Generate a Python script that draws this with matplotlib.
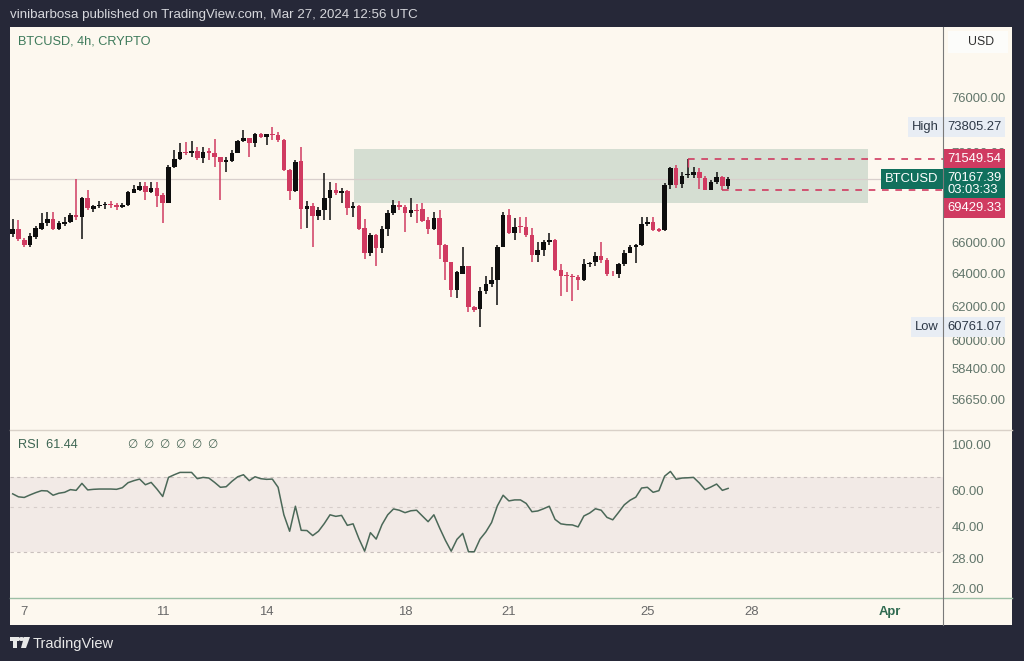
import numpy as np
import pandas as pd
import matplotlib
matplotlib.use('Agg')
import matplotlib.pyplot as plt
from matplotlib.lines import Line2D
from matplotlib.patches import Rectangle, Polygon, Circle
from matplotlib.ticker import FixedLocator, NullLocator, FuncFormatter, NullFormatter
from matplotlib.transforms import blended_transform_factory

plt.rcParams['font.family'] = ['Liberation Sans', 'DejaVu Sans']

# BTCUSD 4h candles, first candle Mar 6 16:00 UTC
start_time = '2024-03-06 16:00'
opens = [66560, 66880, 66180, 65860, 66370, 66880, 67280, 67540, 66880, 67210,
         67340, 67800, 67670, 68920, 68190, 68390, 68460, 68460, 68460, 68320,
         68460, 69250, 69460, 69730, 69320, 69590, 69120, 68590, 71030, 71580,
         72070, 72000, 72140, 71650, 72140, 72000, 71720, 71370, 71440, 72000,
         72840, 73060, 72700, 73340, 73120, 73340, 73270, 72910, 70820, 69390,
         71440, 68190, 68390, 67730, 68130, 68920, 69460, 69250, 69390, 68260,
         68390, 66950, 65350, 66500, 65610, 66880, 67930, 68460, 68320, 67930,
         68130, 68190, 67470, 66880, 67600, 65860, 64720, 63040, 64030, 64470,
         61960, 61840, 62920, 63350, 63600, 65730, 67800, 66630, 67080, 67010,
         66500, 65220, 65480, 65990, 66180, 64220, 63910, 63850, 63790, 63600,
         64600, 64720, 65100, 64850, 64030, 63970, 64600, 65350, 65670, 65860,
         67210, 67340, 66880, 66820, 69800, 70960, 69860, 70480, 70480, 70680,
         70270, 69460, 70000, 70340, 69730]
highs = [67540, 67470, 66300, 66630, 67080, 67930, 67990, 67990, 67410, 67670,
         67930, 70200, 68990, 69460, 68460, 68720, 68660, 68720, 68590, 68590,
         69350, 69800, 70000, 70000, 70000, 70000, 69250, 71160, 72210, 72700,
         72770, 72840, 72420, 72420, 72350, 72980, 71730, 71720, 72210, 72910,
         73620, 73070, 73410, 73410, 73350, 73805.27, 73480, 72980, 70890, 71510,
         72420, 68720, 68590, 68320, 70620, 70000, 69930, 69590, 69460, 68660,
         68460, 67540, 66630, 66560, 67080, 68130, 68790, 68720, 68460, 68920,
         68520, 68590, 67670, 67990, 68130, 65920, 64780, 64160, 65730, 64530,
         62020, 63170, 63850, 64410, 65860, 67990, 68190, 67600, 67670, 67670,
         66950, 65990, 66180, 66630, 66240, 64600, 64100, 63970, 63910, 64910,
         64780, 65410, 65990, 65030, 64160, 64660, 65540, 65860, 65920, 67670,
         67670, 67670, 66950, 69930, 71030, 71160, 70680, 71549.54, 71030, 70960,
         70410, 70140, 70680, 70410, 70340]
lows = [66370, 66110, 65670, 65730, 66240, 66820, 67080, 66820, 66820, 67080,
        67280, 67470, 66240, 68130, 67990, 68260, 68190, 68260, 68130, 68260,
        68390, 69230, 69390, 68790, 69250, 68320, 67280, 68560, 70960, 71510,
        71860, 71720, 71510, 71300, 71510, 71030, 68790, 70680, 71370, 71990,
        72770, 71720, 72420, 73060, 72560, 72910, 72770, 70750, 68790, 69320,
        66880, 66950, 65730, 67470, 67470, 67470, 69120, 68590, 67800, 67670,
        66820, 64910, 65100, 64530, 65290, 66430, 67800, 68130, 66690, 67670,
        67280, 67340, 66560, 66820, 64910, 63600, 62560, 62500, 64020, 61670,
        61670, 60761.07, 62750, 63170, 62080, 65670, 66560, 66180, 66630, 66370,
        64780, 64780, 65160, 65860, 64160, 62620, 62870, 62320, 63040, 63540,
        64410, 64530, 64660, 63850, 63850, 63720, 64530, 65290, 64660, 65790,
        67080, 66750, 66690, 66750, 69520, 69590, 69590, 70270, 70270, 69480,
        69440, 69440, 69860, 69429.33, 69520]
closes = [66880, 66240, 65860, 66430, 66950, 67280, 67540, 66880, 67280, 67340,
          67800, 67670, 68920, 68260, 68390, 68460, 68470, 68450, 68320, 68460,
          69320, 69520, 69730, 69320, 69590, 69060, 68590, 71030, 71580, 72070,
          72000, 72140, 71650, 72070, 72000, 71720, 71370, 71510, 72000, 72840,
          73060, 72700, 73340, 73120, 73340, 73270, 72910, 70820, 69390, 71370,
          68190, 68390, 67730, 68130, 68920, 69460, 69250, 69390, 68260, 68390,
          66880, 65350, 66500, 65610, 66880, 67930, 68460, 68320, 67930, 68130,
          68060, 67410, 66880, 67600, 65860, 64720, 63040, 64100, 64470, 61960,
          61780, 62920, 63350, 63600, 65730, 67800, 66630, 67010, 67010, 66500,
          65220, 65480, 65990, 66180, 64220, 63850, 63850, 63790, 63600, 64600,
          64660, 65100, 64850, 63970, 63970, 64600, 65350, 65670, 65860, 67210,
          67340, 66820, 66750, 69800, 70960, 69800, 70410, 70550, 70680, 70270,
          69460, 70000, 70340, 69730, 70167.39]
rsi = [57.8, 55.9, 55.5, 57.1, 58.6, 59.9, 59.7, 56.9, 58.2, 58.8,
       60.6, 60.1, 65.0, 60.4, 60.8, 61.0, 61.0, 61.0, 60.8, 61.9,
       65.5, 67.0, 68.2, 64.0, 65.7, 61.0, 56.1, 69.5, 71.6, 73.5,
       73.5, 73.5, 68.5, 69.5, 69.0, 65.7, 62.2, 62.6, 66.5, 70.0,
       71.6, 67.0, 70.0, 68.5, 68.0, 68.2, 62.2, 45.7, 38.0, 50.3,
       38.4, 38.3, 36.2, 38.0, 41.4, 45.7, 44.9, 45.4, 40.6, 41.3,
       35.0, 30.4, 37.4, 34.8, 40.9, 45.7, 48.8, 48.1, 46.8, 47.8,
       48.1, 45.1, 42.3, 45.7, 39.4, 34.3, 30.4, 34.7, 37.1, 30.2,
       30.2, 34.8, 37.7, 41.9, 50.5, 56.9, 53.4, 54.0, 54.0, 51.9,
       47.3, 47.7, 48.9, 50.3, 43.4, 41.3, 40.9, 40.8, 39.9, 45.1,
       46.6, 48.9, 48.1, 44.4, 43.2, 46.9, 51.1, 53.8, 55.7, 61.7,
       62.2, 58.8, 59.9, 70.5, 74.3, 68.0, 69.0, 69.2, 69.5, 65.3,
       60.6, 62.4, 64.5, 60.1, 61.44]

price_ticks = [76000, 72000, 66000, 64000, 62000, 60000, 58400, 56650]
rsi_ticks = [100, 60, 40, 28, 20]
date_ticks = ['2024-03-07', '2024-03-11', '2024-03-14', '2024-03-18',
              '2024-03-21', '2024-03-25', '2024-03-28', '2024-04-01']
date_labels = ['7', '11', '14', '18', '21', '25', '28', 'Apr']

zone_start, zone_end = '2024-03-16 12:36', '2024-03-31 08:50'
zone_top, zone_bottom = 72280, 68590
range_high, range_high_idx = 71549.54, 117
range_low, range_low_idx = 69429.33, 123
period_high, period_low = 73805.27, 60761.07

# colours
BG = '#262838'
PANEL = '#fdf8ef'
RED = '#d03b61'
BLACK = '#0e0e0e'
GREEN = '#11705d'
AXIS_TXT = '#62766b'

W, H = 1024, 661


def frac(l, t, r, b):
    return [l / W, 1 - b / H, (r - l) / W, (b - t) / H]


def fig_line(x0, y0, x1, y1, **kw):
    fig.add_artist(Line2D([x0 / W, x1 / W], [1 - y0 / H, 1 - y1 / H],
                          transform=fig.transFigure, **kw))


ref = pd.Timestamp('2024-03-07')
times = pd.date_range(start_time, periods=len(closes), freq='4h')
x = np.asarray((times - ref) / pd.Timedelta('1D'))


def to_x(s):
    return (pd.Timestamp(s) - ref) / pd.Timedelta('1D')


o = np.array(opens, float)
c = np.array(closes, float)
hi = np.array(highs, float)
lo = np.array(lows, float)
up = c >= o
cols = np.where(up, BLACK, RED)

fig = plt.figure(figsize=(W / 100, H / 100), dpi=100, facecolor=BG)

panel = fig.add_axes(frac(10, 27, 1012, 625))
panel.set_facecolor(PANEL)
panel.set_xticks([])
panel.set_yticks([])
for s in panel.spines.values():
    s.set_visible(False)

ax = fig.add_axes(frac(10, 28, 943, 429.5))
rax = fig.add_axes(frac(10, 429.5, 943, 598), sharex=ax)
for a in (ax, rax):
    a.set_facecolor('none')
    for s in a.spines.values():
        s.set_visible(False)

# --- price pane ---
ax.set_yscale('log')
ax.set_ylim(55020, 81290)
ax.set_xlim(-0.411, 26.54)

ax.add_patch(Rectangle((to_x(zone_start), zone_bottom), to_x(zone_end) - to_x(zone_start),
                       zone_top - zone_bottom, facecolor='#d5ded2', edgecolor='none', zorder=1))
ax.axhline(closes[-1], color='#d8cfcc', lw=0.9, zorder=1.5)

ax.vlines(x, lo, hi, colors=cols, lw=1.1, zorder=2)
body_h = np.maximum(np.abs(c - o), 25)
ax.bar(x, body_h, bottom=np.minimum(o, c), width=0.132, color=cols, zorder=3, linewidth=0)

ax.hlines(range_high, x[range_high_idx], ax.get_xlim()[1], colors=RED, lw=1.2,
          linestyles=(0, (4, 4)), zorder=4)
ax.vlines(x[range_high_idx], range_high, closes[range_high_idx] + 450, colors=RED, lw=1.0, zorder=4)
ax.hlines(range_low, x[range_low_idx], ax.get_xlim()[1], colors=RED, lw=1.2,
          linestyles=(0, (4, 4)), zorder=4)

ax.yaxis.tick_right()
ax.yaxis.set_major_locator(FixedLocator(price_ticks))
ax.yaxis.set_minor_locator(NullLocator())
ax.yaxis.set_minor_formatter(NullFormatter())
ax.yaxis.set_major_formatter(FuncFormatter(lambda v, p: f'{v:.2f}'))
ax.tick_params(axis='y', length=0, pad=6, labelsize=9.4, labelcolor=AXIS_TXT)
ax.tick_params(axis='x', bottom=False, labelbottom=False)

blend = blended_transform_factory(ax.transAxes, ax.transData)


def scale_label(a, tr, y, text, fc, tc, dx=3, dy=0, ha='left', size=9.4):
    a.annotate(text, xy=(1.0, y), xycoords=tr, xytext=(dx, dy), textcoords='offset points',
               ha=ha, va='center', fontsize=size, color=tc, linespacing=1.0,
               bbox=dict(boxstyle='square,pad=0.3', fc=fc, ec='none'),
               annotation_clip=False, zorder=10)


scale_label(ax, blend, period_high, 'High', '#e8edf4', '#2d3846', dx=-3, ha='right')
scale_label(ax, blend, period_high, f'{period_high:.2f}', '#e8edf4', '#2d3846')
scale_label(ax, blend, range_high, f'{range_high:.2f}', RED, 'white')
scale_label(ax, blend, closes[-1], 'BTCUSD', GREEN, 'white', dx=-3, ha='right')
scale_label(ax, blend, closes[-1], f'{closes[-1]:.2f}\n03:03:33', GREEN, 'white', dy=-3)
scale_label(ax, blend, range_low, f'{range_low:.2f}', RED, 'white', dy=-13)
scale_label(ax, blend, period_low, 'Low', '#e8edf4', '#2d3846', dx=-3, ha='right')
scale_label(ax, blend, period_low, f'{period_low:.2f}', '#e8edf4', '#2d3846')

# --- RSI pane ---
rax.set_yscale('log')
rax.set_ylim(17.98, 118.9)
rax.axhspan(30, 70, color='#f2eae6', lw=0, zorder=0)
rax.axhline(70, color='#c9c0bd', lw=0.8, ls=(0, (3, 3)), zorder=1)
rax.axhline(50, color='#d6cdca', lw=0.8, ls=(0, (3, 4)), zorder=1)
rax.axhline(30, color='#c9c0bd', lw=0.8, ls=(0, (3, 3)), zorder=1)
rax.plot(x, rsi, color='#4b6858', lw=1.1, zorder=3)

rax.yaxis.tick_right()
rax.yaxis.set_major_locator(FixedLocator(rsi_ticks))
rax.yaxis.set_minor_locator(NullLocator())
rax.yaxis.set_minor_formatter(NullFormatter())
rax.yaxis.set_major_formatter(FuncFormatter(lambda v, p: f'{v:.2f}'))
rax.tick_params(axis='y', length=0, pad=6, labelsize=9.4, labelcolor=AXIS_TXT)

rax.set_xticks([to_x(d) for d in date_ticks])
rax.set_xticklabels(date_labels)
rax.tick_params(axis='x', length=0, pad=6, labelsize=9.4, labelcolor='#686868')
apr = rax.get_xticklabels()[-1]
apr.set_fontweight('bold')
apr.set_color('#2f6a50')

# --- separators ---
fig_line(10, 429.5, 1012, 429.5, color='#d9d1c8', lw=1)
fig_line(10, 598, 1012, 598, color='#9dbfa6', lw=1)
fig_line(943, 27, 943, 625, color='#7a7a7a', lw=0.8)

# --- texts ---
fig.text(10 / W, 1 - 15 / H, 'vinibarbosa published on TradingView.com, Mar 27, 2024 12:56 UTC',
         color='#d6d7dc', fontsize=9.6, va='center')
fig.text(18 / W, 1 - 42 / H, 'BTCUSD, 4h, CRYPTO', color='#3e7a5b', fontsize=9.2, va='center')
fig.text(18 / W, 1 - 445 / H, 'RSI  61.44', color='#3d6552', fontsize=9.2, va='center')
for i in range(6):
    fig.text((127 + 16 * i) / W, 1 - 445 / H, '\u2205', color='#4b6858', fontsize=8.5, va='center')

fig.add_artist(Rectangle((948 / W, 1 - 53 / H), 60 / W, 22 / H, transform=fig.transFigure,
                         facecolor='#fcfcfa', edgecolor='none'))
fig.text(968 / W, 1 - 42 / H, 'USD', color='#2e2e2e', fontsize=8.8, va='center')

# TradingView logo
logo = dict(transform=fig.transFigure, facecolor='#e8e8e8', edgecolor='none')
fig.add_artist(Polygon([(10 / W, 1 - 637 / H), (19 / W, 1 - 637 / H), (19 / W, 1 - 641 / H),
                        (17 / W, 1 - 641 / H), (17 / W, 1 - 648 / H), (13 / W, 1 - 648 / H),
                        (13 / W, 1 - 641 / H), (10 / W, 1 - 641 / H)], **logo))
fig.add_artist(Circle((21.5 / W, 1 - 639 / H), 2 / H, **logo))
fig.add_artist(Polygon([(24 / W, 1 - 637 / H), (30 / W, 1 - 637 / H), (26 / W, 1 - 648 / H),
                        (21 / W, 1 - 648 / H)], **logo))
fig.text(33 / W, 1 - 644 / H, 'TradingView', color='#e8e8e8', fontsize=10.5, va='center')

fig.savefig('out.png', dpi=100, facecolor=BG)
